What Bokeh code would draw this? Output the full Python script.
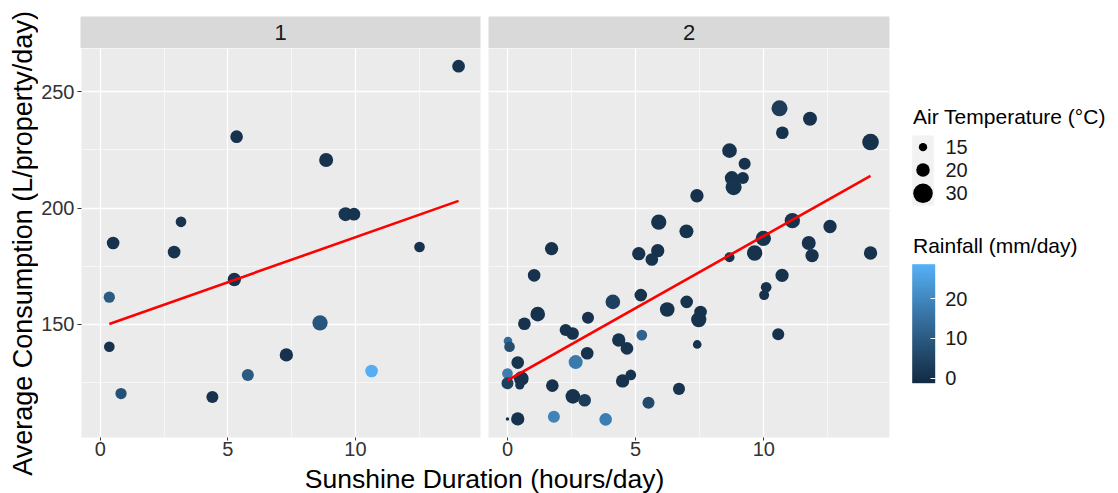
import numpy as np
from bokeh.plotting import figure
from bokeh.models import (Range1d, FixedTicker, Label, ColorBar, LinearColorMapper,
                          ColumnDataSource)
from bokeh.layouts import row, column
from bokeh.embed import file_html
from bokeh.resources import INLINE

# ---------------- data ----------------
# facet 1
sun1 = [14.04, 5.34, 8.85, 9.61, 9.94, 3.16, 0.50, 2.89, 12.51, 5.25, 0.35, 8.61,
        0.35, 7.29, 5.78, 10.63, 0.81, 4.39]
cons1 = [261.0, 230.7, 220.7, 197.4, 197.4, 194.1, 185.0, 181.1, 183.3, 169.3, 161.7,
         150.7, 140.4, 136.9, 128.3, 130.0, 120.3, 118.8]
temp1 = [18.9, 18.9, 20.6, 20.6, 18.9, 16.8, 18.9, 18.9, 16.8, 19.7, 17.4, 22.5,
         16.8, 19.7, 18.2, 18.9, 17.4, 18.2]
rain1 = [1.0, 0.5, 0.5, 1.5, 1.0, 1.0, 0.5, 1.0, 0.5, 0.5, 10.0, 9.0,
         0.5, 0.5, 10.0, 28.0, 8.0, 0.5]
fit1_x = [0.35, 14.04]
fit1_y = [150.2, 203.1]

# facet 2
sun2 = [10.61, 11.80, 10.72, 14.16, 8.66, 9.25, 8.75, 9.18, 8.82, 7.39, 5.90, 11.11,
        12.58, 6.98, 9.98, 11.75, 1.72, 5.12, 5.86, 5.63, 9.64, 8.66, 11.88, 14.16,
        1.04, 10.71, 10.09, 10.01, 5.20, 4.11, 6.99, 6.23, 7.53, 7.46, 1.18, 0.66,
        3.14, 2.27, 2.54, 5.24, 10.56, 0.02, 0.08, 4.34, 4.66, 7.40, 0.40, 3.11,
        2.66, 0.00, 0.54, 0.48, 0.00, 1.75, 4.49, 4.81, 2.55, 3.01, 6.69, 5.50,
        0.00, 0.40, 1.81, 3.83]
cons2 = [242.9, 238.4, 232.4, 228.4, 224.7, 219.1, 212.9, 212.9, 209.0, 205.3, 194.0,
         194.6, 192.1, 190.0, 187.0, 185.0, 182.6, 180.4, 181.7, 177.9, 180.7, 178.9,
         179.6, 180.7, 171.1, 171.1, 166.0, 162.6, 162.6, 159.7, 159.7, 156.4, 155.3,
         152.1, 154.4, 150.3, 152.9, 147.6, 146.1, 145.4, 145.8, 142.9, 140.4, 143.3,
         139.7, 141.4, 133.6, 137.6, 133.8, 128.9, 126.7, 124.0, 124.7, 123.7, 125.7,
         128.3, 119.1, 117.4, 122.3, 116.3, 109.4, 109.4, 110.3, 109.2]
temp2 = [23.6, 20.6, 18.9, 24.7, 21.5, 18.2, 20.6, 18.2, 23.6, 19.7, 22.5, 22.5,
         19.7, 20.6, 22.5, 20.6, 19.7, 19.7, 19.7, 18.9, 22.5, 16.2, 19.7, 19.7,
         18.9, 19.7, 16.8, 16.2, 18.9, 21.5, 18.9, 21.5, 18.9, 22.5, 21.5, 18.9,
         18.2, 18.2, 18.9, 16.8, 18.2, 15.2, 16.8, 19.7, 18.9, 15.2, 18.9, 18.9,
         20.6, 16.8, 21.5, 15.6, 18.2, 18.9, 19.7, 16.8, 21.5, 18.9, 18.2, 18.2,
         13.5, 19.7, 18.2, 18.9]
rain2 = [3.0, 0.5, 0.5, 0.5, 0.5, 0.5, 0.5, 0.5, 1.0, 0.5, 0.5, 1.0,
         0.5, 0.5, 1.0, 0.5, 0.5, 0.5, 0.5, 1.0, 0.5, 0.5, 0.5, 0.5,
         0.5, 0.5, 0.5, 0.5, 0.5, 4.0, 1.0, 0.5, 0.5, 0.5, 0.5, 0.5,
         0.5, 0.5, 0.5, 12.0, 0.5, 14.0, 7.0, 1.0, 1.0, 0.5, 1.0, 0.5,
         17.0, 18.0, 0.5, 1.0, 4.0, 0.5, 0.5, 1.0, 0.5, 3.0, 1.0, 6.0,
         1.0, 0.5, 19.0, 18.0]
fit2_x = [0.0, 14.16]
fit2_y = [126.0, 213.9]

facet_labels = ["1", "2"]
x_ticks = [0, 5, 10]
x_minor = [2.5, 7.5, 12.5]
y_ticks = [150, 200, 250]
y_minor = [125, 175, 225]
X_LIM = (-0.74, 14.9)
Y_LIM = (101.4, 268.6)

temp_breaks = [15, 20, 30]
rain_breaks = [0, 10, 20]
RAIN_LIMITS = (-1.3, 28.7)

x_title = "Sunshine Duration (hours/day)"
y_title = "Average Consumption (L/property/day)"
size_title = "Air Temperature (°C)"
color_title = "Rainfall (mm/day)"

FONT = "Liberation Sans"

# ---------------- scales ----------------
def size_scale(t):
    t = np.asarray(t, dtype=float)
    return 3.5 + 3.94 * np.sqrt(np.maximum(t - 13.5, 0.0))


_M = np.array([[0.4124, 0.3576, 0.1805], [0.2126, 0.7152, 0.0722], [0.0193, 0.1192, 0.9505]])
_WP = np.array([0.95047, 1.0, 1.08883])


def _hex2rgb(h):
    return np.array([int(h[i:i + 2], 16) for i in (1, 3, 5)]) / 255.0


def _rgb2lab(c):
    lin = np.where(c <= 0.04045, c / 12.92, ((c + 0.055) / 1.055) ** 2.4)
    xyz = _M @ lin / _WP
    d = 6 / 29
    f = np.where(xyz > d ** 3, np.cbrt(xyz), xyz / (3 * d * d) + 4 / 29)
    return np.array([116 * f[1] - 16, 500 * (f[0] - f[1]), 200 * (f[1] - f[2])])


def _lab2hex(lab):
    d = 6 / 29
    fy = (lab[0] + 16) / 116
    f = np.array([fy + lab[1] / 500, fy, fy - lab[2] / 200])
    xyz = np.where(f > d, f ** 3, 3 * d * d * (f - 4 / 29)) * _WP
    lin = np.clip(np.linalg.inv(_M) @ xyz, 0, 1)
    c = np.where(lin <= 0.0031308, 12.92 * lin, 1.055 * lin ** (1 / 2.4) - 0.055)
    c = np.clip(np.round(c * 255), 0, 255).astype(int)
    return "#%02x%02x%02x" % tuple(c)


lo, hi = _rgb2lab(_hex2rgb("#132B43")), _rgb2lab(_hex2rgb("#56B1F7"))
palette = [_lab2hex(lo + (hi - lo) * k / 255) for k in range(256)]
mapper = LinearColorMapper(palette=palette, low=RAIN_LIMITS[0], high=RAIN_LIMITS[1])

# ---------------- layout sizes ----------------
YT_W = 38            # width of the y-title column
W1 = 484 - YT_W      # first panel figure width
W2 = 406             # second panel figure width
STRIP_H = 48
PANEL_H = 415
XT_H = 493 - STRIP_H - PANEL_H


def make_panel(sun, cons, temp, rain, fx, fy, first):
    p = figure(width=W1 if first else W2, height=PANEL_H,
               x_range=Range1d(*X_LIM), y_range=Range1d(*Y_LIM),
               output_backend="svg", toolbar_location=None,
               min_border_left=80 - YT_W if first else 4, min_border_right=4 if first else 1,
               min_border_top=0, min_border_bottom=26,
               y_axis_location="left" if first else None,
               background_fill_color="#EBEBEB", border_fill_color="white",
               outline_line_color=None)
    xt = FixedTicker(ticks=x_ticks, minor_ticks=x_minor)
    yt = FixedTicker(ticks=y_ticks, minor_ticks=y_minor)
    p.xaxis.ticker = xt
    p.xgrid.ticker = xt
    p.ygrid.ticker = yt
    for g in (p.xgrid, p.ygrid):
        g.grid_line_color = "white"
        g.grid_line_width = 1.3
        g.minor_grid_line_color = "white"
        g.minor_grid_line_width = 0.6
    axes = [p.xaxis]
    if first:
        p.yaxis.ticker = yt
        axes.append(p.yaxis)
    for ax in axes:
        ax.axis_line_color = None
        ax.major_tick_line_color = "#333333"
        ax.major_tick_in = 0
        ax.major_tick_out = 4
        ax.minor_tick_line_color = None
        ax.major_label_text_font = FONT
        ax.major_label_text_font_size = "20px"
        ax.major_label_text_color = "#333333"
    p.xaxis.major_tick_out = 3
    p.xaxis.major_label_standoff = 0
    if first:
        p.yaxis.major_label_standoff = 3
    src = ColumnDataSource(dict(x=sun, y=cons, size=size_scale(temp), rain=rain))
    p.scatter("x", "y", size="size", source=src,
              fill_color={"field": "rain", "transform": mapper}, line_color=None)
    p.line(fx, fy, line_color="#FF0000", line_width=2.6)
    return p


def make_strip(text, first):
    s = figure(width=W1 if first else W2, height=STRIP_H,
               x_range=Range1d(0, 1), y_range=Range1d(0, 1),
               output_backend="svg", toolbar_location=None,
               min_border_left=80 - YT_W if first else 4, min_border_right=4 if first else 1,
               min_border_top=16, min_border_bottom=0,
               x_axis_location=None, y_axis_location=None,
               background_fill_color="#D9D9D9", border_fill_color="white",
               outline_line_color=None)
    s.grid.visible = False
    s.add_layout(Label(x=0.5, y=0.5, text=text, text_align="center", text_baseline="middle",
                       text_font=FONT, text_font_size="22px", text_color="#1A1A1A"))
    return s


def blank(width, height, xr, yr):
    f = figure(width=width, height=height, x_range=Range1d(*xr), y_range=Range1d(*yr),
               output_backend="svg", toolbar_location=None, min_border=0,
               x_axis_location=None, y_axis_location=None, outline_line_color=None)
    f.grid.visible = False
    return f


p1 = make_panel(sun1, cons1, temp1, rain1, fit1_x, fit1_y, True)
p2 = make_panel(sun2, cons2, temp2, rain2, fit2_x, fit2_y, False)
s1 = make_strip(facet_labels[0], True)
s2 = make_strip(facet_labels[1], False)

# y-axis title column (full height, image coordinates)
ytf = blank(YT_W, 493, (0, YT_W), (493, 0))
ytf.add_layout(Label(x=22.5, y=243, text=y_title, angle=np.pi / 2, text_align="center",
                     text_baseline="middle", text_font=FONT, text_font_size="27px",
                     text_color="black"))

# x-axis title spanning both panels
XW = W1 + W2
xtf = blank(XW, XT_H, (0, XW), (XT_H, 0))
xtf.add_layout(Label(x=484 - YT_W, y=XT_H / 2, text=x_title, text_align="center",
                     text_baseline="middle", text_font=FONT, text_font_size="26.5px",
                     text_color="black"))

# ---------------- legends (image-like coordinates) ----------------
LW = 1118 - YT_W - XW
leg = blank(LW, 493, (0, LW), (493, 0))

leg.add_layout(Label(x=22.5, y=116, text=size_title, text_align="left", text_baseline="middle",
                     text_font=FONT, text_font_size="21px", text_color="black"))
key_top = [135, 158.3, 180.7]
key_bot = [158.3, 180.7, 205]
key_mid = [(a + b) / 2 for a, b in zip(key_top, key_bot)]
leg.quad(left=21.7, right=43.3, top=key_top, bottom=key_bot, fill_color="#F2F2F2", line_color=None)
leg.scatter(x=[32.5] * len(temp_breaks), y=key_mid, size=size_scale(temp_breaks),
            fill_color="black", line_color=None)
for t, ym in zip(temp_breaks, key_mid):
    leg.add_layout(Label(x=55, y=ym, text=str(t), text_align="left", text_baseline="middle",
                         text_font=FONT, text_font_size="20px", text_color="#1A1A1A"))

leg.add_layout(Label(x=22.5, y=245, text=color_title, text_align="left", text_baseline="middle",
                     text_font=FONT, text_font_size="21px", text_color="black"))
cb = ColorBar(color_mapper=mapper, ticker=FixedTicker(ticks=rain_breaks),
              width=23, height=119, location=(21.7, 110.3), padding=0, margin=0,
              bar_line_color=None, major_tick_line_color="white", major_tick_in=5,
              major_tick_out=0, minor_tick_line_color=None, label_standoff=10,
              major_label_text_font=FONT, major_label_text_font_size="20px",
              major_label_text_color="#1A1A1A", background_fill_color=None,
              border_line_color=None)
leg.add_layout(cb, "center")

layout = row(ytf, column(row(s1, s2), row(p1, p2), xtf), leg)
open("out.html", "w").write(file_html(layout, INLINE))
